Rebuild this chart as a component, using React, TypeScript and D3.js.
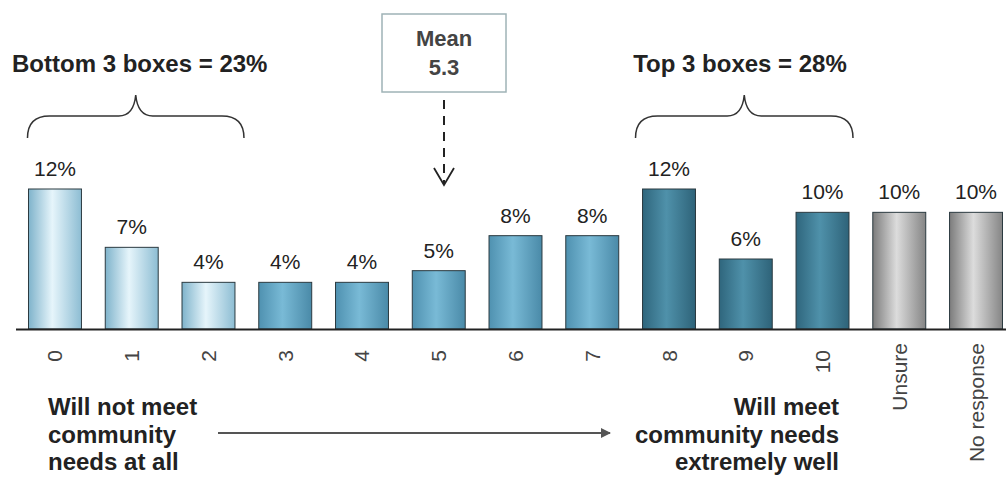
import React from "react";
import * as d3 from "d3";

const categories = ["0", "1", "2", "3", "4", "5", "6", "7", "8", "9", "10", "Unsure", "No response"];
const values = [12, 7, 4, 4, 4, 5, 8, 8, 12, 6, 10, 10, 10];
const groups = ["low", "low", "low", "mid", "mid", "mid", "mid", "mid", "high", "high", "high", "na", "na"];
const bottomLabel = "Bottom 3 boxes = 23%";
const topLabel = "Top 3 boxes = 28%";
const meanLines = ["Mean", "5.3"];
const leftNote = ["Will not meet", "community", "needs at all"];
const rightNote = ["Will meet", "community needs", "extremely well"];

const W = 1006;
const H = 478;
const base = 329;

const gradients: Record<string, [string, string, string]> = {
  low: ["#7fb3cb", "#e6f5fb", "#8dbdd3"],
  mid: ["#4f91b0", "#79bad6", "#4a8aa8"],
  high: ["#2f667d", "#4f91aa", "#2e6379"],
  na: ["#7c7c7c", "#dcdcdc", "#858585"],
};

export default function App() {
  const x = d3
    .scaleBand()
    .domain(categories)
    .range([16.6, 1014.4])
    .paddingInner(0.31)
    .paddingOuter(0.155);
  const y = d3.scaleLinear().domain([0, 12]).range([base, 189]);
  const font = "'Liberation Sans', Arial, sans-serif";

  const brace = (x0: number, x1: number) => {
    const m = (x0 + x1) / 2;
    return `M${x0},138 Q${x0},116 ${x0 + 22},116 L${m - 17},116 Q${m - 2},116 ${m},95 Q${m + 2},116 ${m + 17},116 L${x1 - 22},116 Q${x1},116 ${x1},138`;
  };
  const lx0 = (x("0") ?? 0) - 1;
  const lx1 = (x("2") ?? 0) + x.bandwidth() + 9;
  const rx0 = (x("8") ?? 0) - 7;
  const rx1 = (x("10") ?? 0) + x.bandwidth() + 4;
  const meanX = 444;

  return (
    <div style={{ position: "absolute", left: 0, top: 0 }}>
      <svg width={W} height={H} style={{ display: "block", background: "#fff" }}>
        <defs>
          {Object.entries(gradients).map(([k, c]) => (
            <linearGradient key={k} id={`g-${k}`} x1="0" x2="1" y1="0" y2="0">
              <stop offset="0" stopColor={c[0]} />
              <stop offset="0.45" stopColor={c[1]} />
              <stop offset="1" stopColor={c[2]} />
            </linearGradient>
          ))}
          <marker id="arrowFill" viewBox="0 0 10 10" refX="9" refY="5" markerWidth="5" markerHeight="5" orient="auto">
            <path d="M0,0 L10,5 L0,10 z" fill="#555" />
          </marker>
        </defs>

        {categories.map((c, i) => (
          <g key={c}>
            <rect
              x={x(c)}
              y={y(values[i])}
              width={x.bandwidth()}
              height={base - y(values[i])}
              fill={`url(#g-${groups[i]})`}
              stroke="#2b3a40"
              strokeWidth={1}
            />
            <text
              x={(x(c) ?? 0) + x.bandwidth() / 2}
              y={y(values[i]) - 13}
              textAnchor="middle"
              fontFamily={font}
              fontSize={21}
              fill="#222"
            >
              {values[i]}%
            </text>
            <text
              transform={`translate(${(x(c) ?? 0) + x.bandwidth() / 2 + 7.5},${isNaN(+c) ? 343 : 350}) rotate(-90)`}
              textAnchor="end"
              fontFamily={font}
              fontSize={21}
              fill="#444"
            >
              {c}
            </text>
          </g>
        ))}
        <line x1={16} x2={W} y1={base + 0.5} y2={base + 0.5} stroke="#222" strokeWidth={2} />

        <text x={12} y={72} fontFamily={font} fontSize={24} fontWeight="bold" fill="#222">{bottomLabel}</text>
        <text x={740} y={72} textAnchor="middle" fontFamily={font} fontSize={24} fontWeight="bold" fill="#222">{topLabel}</text>
        <path d={brace(lx0, lx1)} fill="none" stroke="#333" strokeWidth={1.5} />
        <path d={brace(rx0, rx1)} fill="none" stroke="#333" strokeWidth={1.5} />

        <rect x={382} y={14} width={124} height={78} fill="#fff" stroke="#9fb3b6" strokeWidth={1.5} />
        {meanLines.map((t, i) => (
          <text key={t} x={meanX} y={46 + i * 29} textAnchor="middle" fontFamily={font} fontSize={22} fontWeight="bold" fill="#444">{t}</text>
        ))}
        <line x1={meanX} x2={meanX} y1={100} y2={183} stroke="#222" strokeWidth={2} strokeDasharray="9,7" />
        <path d={`M${meanX - 10},168 L${meanX},185 L${meanX + 10},168`} fill="none" stroke="#222" strokeWidth={1.8} />

        {leftNote.map((t, i) => (
          <text key={t} x={48} y={415 + i * 27.5} fontFamily={font} fontSize={24} fontWeight="bold" fill="#222">{t}</text>
        ))}
        {rightNote.map((t, i) => (
          <text key={t} x={839} y={415 + i * 27.5} textAnchor="end" fontFamily={font} fontSize={24} fontWeight="bold" fill="#222">{t}</text>
        ))}
        <line x1={218} x2={610} y1={433} y2={433} stroke="#555" strokeWidth={2} markerEnd="url(#arrowFill)" />
      </svg>
    </div>
  );
}
